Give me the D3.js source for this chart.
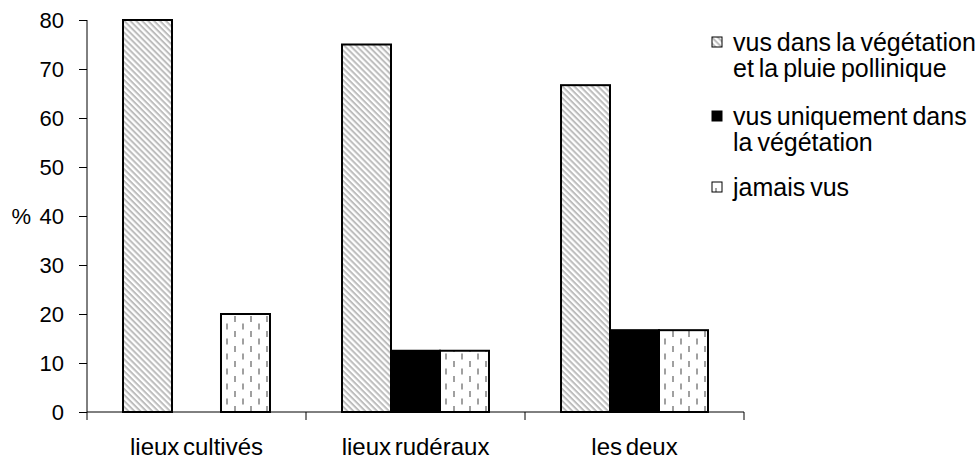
<!DOCTYPE html>
<html>
<head>
<meta charset="utf-8">
<script src="https://cdn.jsdelivr.net/npm/d3@7"></script>
<style>
  html, body { margin: 0; padding: 0; background: #fff; }
  svg { display: block; font-family: "Liberation Sans", Arial, sans-serif; }
</style>
</head>
<body>
<svg id="chart" width="980" height="459"></svg>
<script>
// ---- data ----
const categories = ["lieux cultivés", "lieux rudéraux", "les deux"];
const seriesKeys = ["vegPollen", "vegOnly", "never"];
const seriesLabels = [
  ["vus dans la végétation", "et la pluie pollinique"],
  ["vus uniquement dans", "la végétation"],
  ["jamais vus"]
];
const vegPollen = [80, 75, 66.7];
const vegOnly = [0, 12.5, 16.7];
const never = [20, 12.5, 16.7];
const yTicks = [0, 10, 20, 30, 40, 50, 60, 70, 80];

const seriesValues = [vegPollen, vegOnly, never];
const table = categories.map((c, i) => ({
  cat: c,
  vals: seriesKeys.map((k, j) => ({ key: k, idx: j, value: seriesValues[j][i] }))
}));

// ---- layout ----
const svg = d3.select("#chart");
const mLeft = 87, mRight = 744, mTop = 20, mBottom = 412;

const x = d3.scaleBand().domain(categories).range([mLeft, mRight]).paddingInner(0).paddingOuter(0);
const xInner = d3.scaleBand().domain(seriesKeys).range([0, x.bandwidth()]).paddingOuter(0.735).paddingInner(0);
const y = d3.scaleLinear().domain([0, 80]).range([mBottom, mTop]);

// ---- patterns ----
const defs = svg.append("defs");
const diag = defs.append("pattern").attr("id", "diag")
  .attr("patternUnits", "userSpaceOnUse").attr("width", 4.2).attr("height", 4.2)
  .attr("patternTransform", "rotate(45)");
diag.append("rect").attr("width", 4.2).attr("height", 4.2).attr("fill", "#fff");
diag.append("rect").attr("x", 0).attr("y", 0).attr("width", 4.2).attr("height", 2).attr("fill", "#bdbdbd");

const dash = defs.append("pattern").attr("id", "dash")
  .attr("patternUnits", "userSpaceOnUse").attr("width", 16).attr("height", 15);
dash.append("rect").attr("width", 16).attr("height", 15).attr("fill", "#fff");
dash.append("rect").attr("x", 3).attr("y", 1).attr("width", 2).attr("height", 6).attr("fill", "#a0a0a0");
dash.append("rect").attr("x", 11).attr("y", 8.5).attr("width", 2).attr("height", 6).attr("fill", "#a0a0a0");

const fills = { vegPollen: "url(#diag)", vegOnly: "#000", never: "url(#dash)" };

// ---- bars ----
const groups = svg.append("g").selectAll("g").data(table).join("g")
  .attr("transform", d => `translate(${x(d.cat)},0)`);
groups.selectAll("rect").data(d => d.vals.filter(v => v.value > 0)).join("rect")
  .attr("x", d => xInner(d.key))
  .attr("y", d => y(d.value))
  .attr("width", xInner.bandwidth())
  .attr("height", d => y(0) - y(d.value))
  .attr("fill", d => fills[d.key])
  .attr("stroke", "#000")
  .attr("stroke-width", 2);

// ---- axes ----
const yAxis = d3.axisLeft(y).tickValues(yTicks).tickSize(8).tickPadding(15).tickFormat(d3.format("d"));
const gy = svg.append("g").attr("transform", `translate(${mLeft},0)`).call(yAxis);
gy.select(".domain").attr("d", `M0,${mTop}V${mBottom}`).attr("stroke", "#000");
gy.selectAll(".tick line").attr("stroke", "#000");
gy.selectAll(".tick text").attr("font-size", 22).attr("fill", "#000")
  .attr("font-family", "'Liberation Sans', Arial, sans-serif");

const xAxis = d3.axisBottom(x).tickSize(0).tickPadding(0);
const gx = svg.append("g").attr("transform", `translate(0,${mBottom})`).call(xAxis);
gx.select(".domain").attr("d", `M${mLeft},0H${mRight}`).attr("stroke", "#000");
gx.selectAll(".tick text").attr("font-size", 24).attr("fill", "#000")
  .attr("y", 35).attr("dy", "0.35em").attr("word-spacing", "-3px")
  .attr("font-family", "'Liberation Sans', Arial, sans-serif");
// boundary ticks
const bounds = categories.map(c => x(c)).concat([mRight]);
gx.selectAll(".bound").data(bounds).join("line").attr("class", "bound")
  .attr("x1", d => d).attr("x2", d => d).attr("y1", 0).attr("y2", 8)
  .attr("stroke", "#000");

// "%" label
svg.append("text").attr("x", 31).attr("y", y(40)).attr("dy", "0.35em")
  .attr("text-anchor", "end").attr("font-size", 22).text("%");

// ---- legend ----
const legendY = [42, 116, 187];
const lg = svg.append("g");
const items = lg.selectAll("g").data(seriesKeys).join("g")
  .attr("transform", (d, i) => `translate(712,${legendY[i]})`);
items.append("rect").attr("x", 0).attr("y", -5).attr("width", 10).attr("height", 10)
  .attr("fill", d => fills[d]).attr("stroke", "#000").attr("stroke-width", 1);
items.append("text").attr("x", 21).attr("font-size", 25)
  .selectAll("tspan").data((d, i) => seriesLabels[i]).join("tspan")
  .attr("x", 21).attr("y", (d, i) => i * 26).attr("dy", "0.35em").attr("word-spacing", "-2px")
  .text(d => d);
</script>
</body>
</html>
